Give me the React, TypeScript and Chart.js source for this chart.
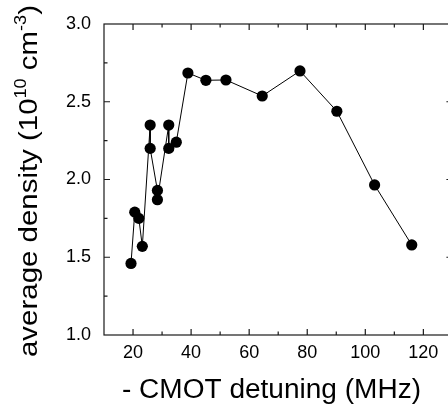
import React, { useEffect, useRef } from "react";
import { Chart, registerables } from "chart.js";

Chart.register(...registerables);

const detuning = [19.3, 20.6, 22.0, 23.2, 25.9, 25.9, 28.4, 28.4, 32.3, 32.3, 34.9, 38.9, 45.1, 52.0, 64.5, 77.5, 90.2, 103.2, 116.0];
const density = [1.46, 1.79, 1.75, 1.57, 2.35, 2.20, 1.93, 1.87, 2.35, 2.20, 2.24, 2.685, 2.638, 2.64, 2.537, 2.698, 2.439, 1.965, 1.579];
const xTickLabels = [20, 40, 60, 80, 100, 120];
const yTickLabels = [1.0, 1.5, 2.0, 2.5, 3.0];
const xTitle = "- CMOT detuning (MHz)";
const yTitleParts = ["average density (10", "10", " cm", "-3", ")"];

const FONT = "'Liberation Sans', Arial, Helvetica, sans-serif";

const framePlugin = {
  id: "frameTicks",
  afterDraw(chart: any) {
    const ctx = chart.ctx as CanvasRenderingContext2D;
    const { left, right, top, bottom } = chart.chartArea;
    const xs = chart.scales.x;
    const ys = chart.scales.y;
    ctx.save();
    ctx.strokeStyle = "#1a1a1a";
    ctx.lineWidth = 1.2;
    ctx.strokeRect(left, top, right - left, bottom - top);
    ctx.beginPath();
    for (let v = 10; v <= xs.max + 0.001; v += 10) {
      const px = xs.getPixelForValue(v);
      if (px < left + 1 || px > right - 1) continue;
      const len = v % 20 === 0 ? 6 : 3.5;
      ctx.moveTo(px, bottom);
      ctx.lineTo(px, bottom - len);
      ctx.moveTo(px, top);
      ctx.lineTo(px, top + len);
    }
    for (let i = 0; i <= 8; i++) {
      const v = 1 + i * 0.25;
      const py = ys.getPixelForValue(v);
      if (py < top + 1 || py > bottom - 1) continue;
      const len = i % 2 === 0 ? 6 : 3.5;
      ctx.moveTo(left, py);
      ctx.lineTo(left + len, py);
      ctx.moveTo(right, py);
      ctx.lineTo(right - len, py);
    }
    ctx.stroke();

    // X title
    ctx.fillStyle = "#000";
    ctx.font = `27px ${FONT}`;
    ctx.textBaseline = "alphabetic";
    ctx.textAlign = "left";
    const w = ctx.measureText(xTitle).width;
    const targetW = 299;
    ctx.save();
    ctx.translate(122, 397.5);
    ctx.scale(targetW / w, 1);
    ctx.fillText(xTitle, 0, 0);
    ctx.restore();

    // Y title (rotated, with superscripts)
    const mainSize = 26;
    const supSize = 16;
    const widths: number[] = [];
    yTitleParts.forEach((p, i) => {
      ctx.font = `${i === 1 || i === 3 ? supSize : mainSize}px ${FONT}`;
      widths.push(ctx.measureText(p).width);
    });
    const total = widths.reduce((a, b) => a + b, 0);
    const targetL = 352;
    ctx.save();
    ctx.translate(37, 357);
    ctx.rotate(-Math.PI / 2);
    ctx.scale(targetL / total, 1);
    let x = 0;
    yTitleParts.forEach((p, i) => {
      const sup = i === 1 || i === 3;
      ctx.font = `${sup ? supSize : mainSize}px ${FONT}`;
      ctx.fillText(p, x, sup ? -11 : 0);
      x += widths[i];
    });
    ctx.restore();
    ctx.restore();
  },
};

export default function App() {
  const ref = useRef<HTMLCanvasElement>(null);
  useEffect(() => {
    if (!ref.current) return;
    const chart = new Chart(ref.current, {
      type: "scatter",
      data: {
        datasets: [
          {
            data: detuning.map((d, i) => ({ x: d, y: density[i] })),
            showLine: true,
            borderColor: "#000",
            borderWidth: 1,
            backgroundColor: "#000",
            pointBackgroundColor: "#000",
            pointBorderColor: "#000",
            pointRadius: 5.6,
            pointBorderWidth: 0,
          },
        ],
      },
      options: {
        responsive: false,
        animation: false,
        layout: { padding: { left: 0, top: 24, right: 0, bottom: 0 } },
        plugins: { legend: { display: false }, tooltip: { enabled: false } },
        scales: {
          x: {
            type: "linear",
            min: 10,
            max: 130,
            grid: { display: false, drawTicks: false },
            border: { display: false },
            afterBuildTicks: (s: any) => {
              s.ticks = xTickLabels.map((v) => ({ value: v }));
            },
            afterFit: (s: any) => {
              s.height = 71;
            },
            ticks: {
              color: "#000",
              padding: 7,
              maxRotation: 0,
              autoSkip: false,
              font: { size: 18, family: FONT },
              callback: (v: any) => String(v),
            },
          },
          y: {
            type: "linear",
            min: 1,
            max: 3,
            grid: { display: false, drawTicks: false },
            border: { display: false },
            afterBuildTicks: (s: any) => {
              s.ticks = yTickLabels.map((v) => ({ value: v }));
            },
            afterFit: (s: any) => {
              s.width = 104;
            },
            ticks: {
              color: "#000",
              padding: 13,
              autoSkip: false,
              font: { size: 18, family: FONT },
              callback: (v: any) => Number(v).toFixed(1),
            },
          },
        },
      },
      plugins: [framePlugin],
    });
    return () => chart.destroy();
  }, []);
  return (
    <div style={{ position: "fixed", left: 0, top: 0, width: 448, height: 406, overflow: "hidden", background: "#fff" }}>
      <canvas ref={ref} width={458} height={406} style={{ display: "block" }} />
    </div>
  );
}
